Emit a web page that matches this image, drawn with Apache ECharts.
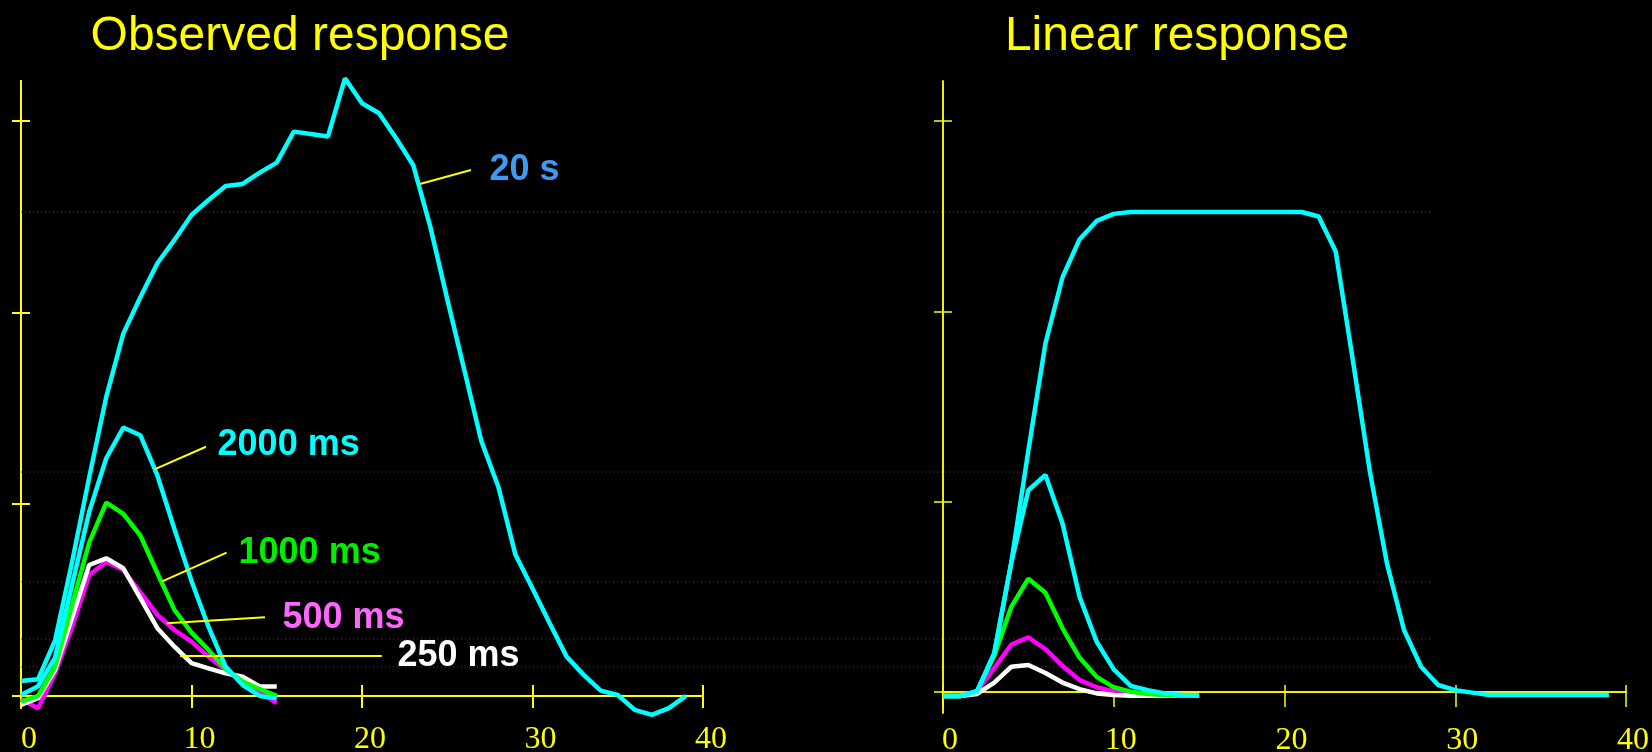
<!DOCTYPE html>
<html><head><meta charset="utf-8">
<script src="https://cdn.jsdelivr.net/npm/echarts@6/dist/echarts.min.js"></script>
<style>html,body{margin:0;padding:0;background:#000;}#c{width:1652px;height:752px;}</style>
</head><body><div id="c"></div>
<script>
// ---- data (x = seconds, one value per second starting at 0) ----
const xTickValues = [0, 10, 20, 30, 40];
const yTickValues = [0, 1, 2, 3];
const refLevels = [2.525, 1.168, 0.595, 0.297, 0.151];

const obs20s = [0.078, 0.087, 0.29, 0.70, 1.14, 1.56, 1.89, 2.08, 2.257, 2.379, 2.509, 2.587, 2.660, 2.671, 2.730, 2.782, 2.944, 2.931, 2.918, 3.222, 3.092, 3.040, 2.909, 2.77, 2.45, 2.07, 1.70, 1.33, 1.09, 0.736, 0.56, 0.38, 0.205, 0.11, 0.028, 0.005, -0.073, -0.099, -0.064, 0.0];
const obs2000 = [0.005, 0.05, 0.2, 0.58, 0.96, 1.24, 1.40, 1.36, 1.15, 0.87, 0.60, 0.36, 0.153, 0.057, 0.0, -0.012];
const obs1000 = [-0.03, 0.0, 0.153, 0.475, 0.80, 1.008, 0.95, 0.837, 0.64, 0.449, 0.33, 0.24, 0.14, 0.075, 0.035, 0.0];
const obs500 = [-0.017, -0.064, 0.118, 0.36, 0.631, 0.70, 0.657, 0.54, 0.423, 0.344, 0.283, 0.205, 0.136, 0.075, 0.02, -0.038];
const obs250 = [-0.047, -0.012, 0.136, 0.41, 0.683, 0.718, 0.666, 0.51, 0.353, 0.257, 0.171, 0.144, 0.118, 0.10, 0.049, 0.049];

const lin20s = [-0.021, -0.021, 0.005, 0.203, 0.68, 1.27, 1.832, 2.179, 2.379, 2.475, 2.512, 2.522, 2.522, 2.522, 2.522, 2.522, 2.522, 2.522, 2.522, 2.522, 2.522, 2.522, 2.498, 2.314, 1.745, 1.158, 0.676, 0.326, 0.133, 0.037, 0.01, -0.003, -0.016, -0.016, -0.016, -0.016, -0.016, -0.016, -0.016, -0.016];
const lin2000 = [-0.021, -0.021, 0.005, 0.203, 0.68, 1.06, 1.14, 0.886, 0.50, 0.264, 0.119, 0.032, 0.01, -0.007, -0.015, -0.02];
const lin1000 = [-0.021, -0.021, 0.005, 0.19, 0.448, 0.595, 0.522, 0.335, 0.18, 0.08, 0.025, 0.002, -0.01, -0.015, -0.02, -0.02];
const lin500 = [-0.021, -0.021, 0.003, 0.126, 0.25, 0.287, 0.225, 0.137, 0.063, 0.025, 0.003, -0.01, -0.015, -0.02, -0.02, -0.02];
const lin250 = [-0.021, -0.021, -0.01, 0.05, 0.133, 0.142, 0.10, 0.05, 0.015, -0.007, -0.015, -0.02, -0.02, -0.02, -0.02, -0.02];

const seriesNames = ['20 s', '2000 ms', '1000 ms', '500 ms', '250 ms'];
const titles = ['Observed response', 'Linear response'];

// annotation anchors (left-panel data coords): curveX, curveY, lineEndX, lineEndY, textX, textY
const leaders = {
  '20 s':    [23.4, 2.671, 26.39, 2.744, 27.45, 2.744],
  '2000 ms': [7.86, 1.183, 10.85, 1.30, 11.5, 1.309],
  '1000 ms': [8.25, 0.596, 12.06, 0.748, 12.73, 0.746],
  '500 ms':  [8.55, 0.379, 14.31, 0.41, 15.31, 0.407],
  '250 ms':  [9.33, 0.207, 21.16, 0.207, 22.05, 0.209]
};

const YEL = '#ffff00';
const colors = {'20 s': '#00ffff', '2000 ms': '#00ffff', '1000 ms': '#00ff00', '500 ms': '#ff00ff', '250 ms': '#ffffff'};
const labelColors = {'20 s': '#3d9bf5', '2000 ms': '#00ffff', '1000 ms': '#00ee00', '500 ms': '#ff66ff', '250 ms': '#ffffff'};

const toXY = arr => arr.map((v, i) => [i, v]);

function xAxesFor(grid, yIdx, width, up, down, pad, margin) {
  const common = {type: 'value', gridIndex: grid, position: 'bottom', min: 0, max: 40, interval: 10,
    splitLine: {show: false}};
  return [
    Object.assign({}, common, {
      axisLine: {onZero: true, onZeroAxisIndex: yIdx, lineStyle: {color: YEL, width: width}},
      axisTick: {inside: false, length: down, lineStyle: {color: YEL, width: width}},
      axisLabel: {color: YEL, fontFamily: 'Liberation Serif', fontSize: 32, margin: margin,
        padding: [0, 0, 0, pad], showMinLabel: true, showMaxLabel: true}
    }),
    Object.assign({}, common, {
      axisLine: {onZero: true, onZeroAxisIndex: yIdx, lineStyle: {color: YEL, width: width}},
      axisTick: {inside: true, length: up, lineStyle: {color: YEL, width: width}},
      axisLabel: {show: false}
    })
  ];
}
function yAxesFor(grid, min, max, width) {
  const common = {type: 'value', gridIndex: grid, position: 'left', offset: 0, min: min, max: max,
    splitLine: {show: false}, axisLabel: {show: false}};
  return [
    Object.assign({}, common, {
      axisLine: {onZero: false, lineStyle: {color: YEL, width: width}},
      axisTick: {inside: false, length: 9, customValues: yTickValues, lineStyle: {color: YEL, width: width}}
    }),
    Object.assign({}, common, {
      axisLine: {onZero: false, lineStyle: {color: YEL, width: width}},
      axisTick: {inside: true, length: 9, customValues: yTickValues, lineStyle: {color: YEL, width: width}}
    })
  ];
}

const obsData = {'20 s': obs20s, '2000 ms': obs2000, '1000 ms': obs1000, '500 ms': obs500, '250 ms': obs250};
const linData = {'20 s': lin20s, '2000 ms': lin2000, '1000 ms': lin1000, '500 ms': lin500, '250 ms': lin250};
const drawOrder = ['500 ms', '250 ms', '1000 ms', '2000 ms', '20 s'];

const series = [];
refLevels.forEach(v => {
  series.push({type: 'line', xAxisIndex: 4, yAxisIndex: 4, data: [[0, v], [1, v]],
    symbol: 'none', silent: true, z: 1,
    lineStyle: {color: '#4a4a4a', width: 1, type: [1, 3]}});
});
drawOrder.forEach(name => {
  const L = leaders[name];
  series.push({type: 'line', name: name, xAxisIndex: 0, yAxisIndex: 0, data: toXY(obsData[name]),
    symbol: 'none', clip: false, z: 3,
    lineStyle: {color: colors[name], width: 4.5},
    markLine: {silent: true, symbol: ['none', 'none'], animation: false,
      lineStyle: {color: YEL, width: 2, type: 'solid'}, label: {show: false},
      data: [[{coord: [L[0], L[1]]}, {coord: [L[2], L[3]]}]]},
    markPoint: {silent: true, animation: false, symbol: 'circle', symbolSize: 1,
      itemStyle: {color: 'rgba(0,0,0,0)'},
      label: {show: true, position: 'right', distance: 0, formatter: name,
        color: labelColors[name], fontFamily: 'Liberation Sans', fontWeight: 'bold', fontSize: 36},
      data: [{coord: [L[4], L[5]]}]}
  });
  series.push({type: 'line', name: name + ' lin', xAxisIndex: 2, yAxisIndex: 2, data: toXY(linData[name]),
    symbol: 'none', clip: false, z: 3,
    lineStyle: {color: colors[name], width: 4.5}});
});

const gridCommon = {outerBoundsMode: 'none', containLabel: false};
const option = {
  backgroundColor: '#000',
  animation: false,
  title: [
    {text: titles[0], left: 300, top: 13, textAlign: 'center', padding: 0,
      textStyle: {color: YEL, fontFamily: 'Liberation Sans', fontWeight: 'normal', fontSize: 48}},
    {text: titles[1], left: 1177, top: 13, textAlign: 'center', padding: 0,
      textStyle: {color: YEL, fontFamily: 'Liberation Sans', fontWeight: 'normal', fontSize: 48}}
  ],
  grid: [
    Object.assign({left: 21, top: 81, width: 682, height: 627}, gridCommon),
    Object.assign({left: 943, top: 81, width: 683, height: 632}, gridCommon),
    Object.assign({left: 21, top: 81, width: 1412, height: 627}, gridCommon)
  ],
  xAxis: [].concat(
    xAxesFor(0, 0, 2, 11, 12, 16, 16),
    xAxesFor(1, 2, 1.5, 7, 15, 14, 12),
    [{type: 'value', gridIndex: 2, min: 0, max: 1, show: false}]
  ),
  yAxis: [].concat(
    yAxesFor(0, -0.063, 3.208, 2),
    yAxesFor(1, -0.11, 3.21, 1.5),
    [{type: 'value', gridIndex: 2, min: -0.063, max: 3.208, show: false}]
  ),
  series: series
};
const chart = echarts.init(document.getElementById('c'), null, {renderer: 'canvas'});
chart.setOption(option);
</script></body></html>
